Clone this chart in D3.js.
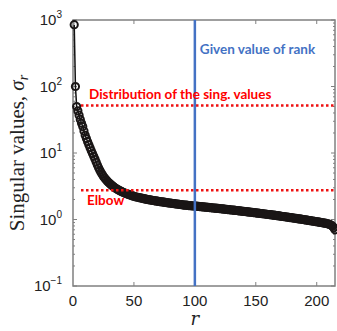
<!DOCTYPE html>
<html>
<head>
<meta charset="utf-8">
<script src="https://cdn.jsdelivr.net/npm/d3@7"></script>
<style>
  body { margin: 0; background: #fff; }
  svg { display: block; }
</style>
</head>
<body>
<div id="chart"></div>
<script>
// Singular value decay with rank / elbow markers

const width = 337,
    height = 331,
    margin = ({ top: 20, right: 2, bottom: 45, left: 73 });

// sigma_r for r = 1..215
const sigma = [
  850, 100, 50, 43, 37, 32, 28, 25, 21.5, 18.5,
  16.5, 14.8, 13.3, 12.0, 10.8, 9.8, 8.9, 8.1, 7.3, 6.6,
  6.0, 5.5, 5.1, 4.75, 4.45, 4.2, 3.98, 3.8, 3.64, 3.5,
  3.37, 3.25, 3.14, 3.04, 2.95, 2.87, 2.80, 2.74, 2.68, 2.62,
  2.57, 2.52, 2.48, 2.44, 2.40, 2.36, 2.33, 2.29, 2.26, 2.23,
  2.20, 2.18, 2.16, 2.14, 2.12, 2.10, 2.08, 2.06, 2.04, 2.02,
  2.00, 1.99, 1.97, 1.96, 1.94, 1.93, 1.91, 1.90, 1.89, 1.87,
  1.86, 1.85, 1.84, 1.83, 1.82, 1.80, 1.79, 1.78, 1.77, 1.76,
  1.75, 1.74, 1.73, 1.72, 1.71, 1.70, 1.69, 1.68, 1.67, 1.66,
  1.65, 1.645, 1.64, 1.63, 1.62, 1.615, 1.61, 1.60, 1.595, 1.59,
  1.585, 1.58, 1.57, 1.565, 1.56, 1.55, 1.545, 1.54, 1.53, 1.525,
  1.52, 1.51, 1.505, 1.50, 1.49, 1.485, 1.48, 1.47, 1.465, 1.46,
  1.45, 1.445, 1.44, 1.43, 1.425, 1.42, 1.41, 1.405, 1.40, 1.39,
  1.385, 1.38, 1.37, 1.365, 1.36, 1.35, 1.345, 1.34, 1.33, 1.325,
  1.32, 1.31, 1.305, 1.30, 1.29, 1.285, 1.28, 1.27, 1.265, 1.26,
  1.25, 1.245, 1.24, 1.23, 1.225, 1.22, 1.21, 1.205, 1.20, 1.19,
  1.185, 1.18, 1.17, 1.165, 1.16, 1.15, 1.145, 1.14, 1.13, 1.125,
  1.12, 1.11, 1.105, 1.10, 1.09, 1.085, 1.08, 1.07, 1.065, 1.06,
  1.05, 1.045, 1.04, 1.03, 1.025, 1.02, 1.01, 1.005, 1.00, 0.99,
  0.985, 0.98, 0.97, 0.965, 0.96, 0.95, 0.945, 0.94, 0.93, 0.925,
  0.92, 0.91, 0.905, 0.90, 0.89, 0.885, 0.88, 0.87, 0.86, 0.85,
  0.84, 0.82, 0.79, 0.75, 0.70
];
const ranks = sigma.map((d, i) => i + 1);

const xTicks = [0, 50, 100, 150, 200];
const yTicks = [0.1, 1, 10, 100, 1000];
const yTickExp = ["\u22121", "0", "1", "2", "3"];

const givenRank = 100;
const distLevel = 52;
const elbowLevel = 2.75;

const svg = d3.select("#chart")
    .append("svg")
    .attr("width", width)
    .attr("height", height);

const x = d3.scaleLinear()
    .domain([0, 215])
    .range([margin.left, width - margin.right]);

const y = d3.scaleLog()
    .domain([0.1, 1000])
    .range([height - margin.bottom, margin.top]);

const axisColor = "#808080";

// minor ticks for log axis
const minor = [];
for (let e = -1; e < 3; e++) {
  for (let m = 2; m <= 9; m++) minor.push(m * Math.pow(10, e));
}

// frame
svg.append("rect")
  .attr("x", x(0))
  .attr("y", y(1000))
  .attr("width", x(215) - x(0))
  .attr("height", y(0.1) - y(1000))
  .attr("fill", "none")
  .attr("stroke", axisColor)
  .attr("stroke-width", 1.5);

const ticks = svg.append("g").attr("stroke", axisColor).attr("stroke-width", 1);

// left + right major/minor ticks
ticks.selectAll(".ymaj")
  .data(yTicks)
  .join("path")
  .attr("d", d => `M${x(0)},${y(d)}h4M${x(215)},${y(d)}h-4`);
ticks.selectAll(".ymin")
  .data(minor)
  .join("path")
  .attr("d", d => `M${x(0)},${y(d)}h2M${x(215)},${y(d)}h-2`);

// bottom + top ticks
ticks.selectAll(".xt")
  .data(xTicks.slice(1))
  .join("path")
  .attr("d", d => `M${x(d)},${y(0.1)}v-4M${x(d)},${y(1000)}v4`);

// y tick labels with superscripts
const yl = svg.append("g")
  .attr("font-family", "Liberation Sans, Arial, sans-serif")
  .attr("fill", "#222");

yTicks.forEach((d, i) => {
  const t = yl.append("text")
    .attr("x", x(0) - 11)
    .attr("y", y(d) + 5)
    .attr("text-anchor", "end")
    .attr("font-size", 15);
  t.append("tspan").text("10");
  t.append("tspan")
    .attr("dy", -7)
    .attr("font-size", 10)
    .text(yTickExp[i]);
});

// x tick labels
svg.append("g")
  .selectAll("text")
  .data(xTicks)
  .join("text")
  .attr("x", d => x(d))
  .attr("y", y(0.1) + 20)
  .attr("text-anchor", "middle")
  .attr("font-family", "Liberation Sans, Arial, sans-serif")
  .attr("font-size", 15)
  .attr("fill", "#222")
  .text(d => d);

// axis titles
svg.append("text")
  .attr("x", x(100))
  .attr("y", height - 6)
  .attr("text-anchor", "middle")
  .attr("font-family", "DejaVu Serif, Liberation Serif, serif")
  .attr("font-style", "italic")
  .attr("font-size", 18)
  .attr("fill", "#222")
  .text("r");

const yt = svg.append("text")
  .attr("transform", `translate(24,${(y(0.1) + y(1000)) / 2}) rotate(-90)`)
  .attr("text-anchor", "middle")
  .attr("font-family", "Liberation Serif, DejaVu Serif, serif")
  .attr("font-size", 21)
  .attr("fill", "#222");
yt.append("tspan").text("Singular values, ");
yt.append("tspan").attr("font-style", "italic").text("\u03c3");
yt.append("tspan").attr("font-style", "italic").attr("font-size", 14).attr("dy", 4).text("r");

// data
const pts = ranks.map((r, i) => [r, sigma[i]]);

svg.append("path")
  .datum(pts)
  .attr("fill", "none")
  .attr("stroke", "#111")
  .attr("stroke-width", 1.5)
  .attr("d", d3.line().x(d => x(d[0])).y(d => y(d[1])));

svg.append("g")
  .selectAll("circle")
  .data(pts)
  .join("circle")
  .attr("cx", d => x(d[0]))
  .attr("cy", d => y(d[1]))
  .attr("r", 3.6)
  .attr("fill", "none")
  .attr("stroke", "#1a1616")
  .attr("stroke-width", 2);

// reference lines
[distLevel, elbowLevel].forEach(v => {
  svg.append("line")
    .attr("x1", x(0) + 8)
    .attr("x2", x(215))
    .attr("y1", y(v))
    .attr("y2", y(v))
    .attr("stroke", "#ee1111")
    .attr("stroke-width", 2.5)
    .attr("stroke-dasharray", "2.5,2.5");
});

svg.append("line")
  .attr("x1", x(givenRank))
  .attr("x2", x(givenRank))
  .attr("y1", y(1000))
  .attr("y2", y(0.1))
  .attr("stroke", "#4472c4")
  .attr("stroke-width", 2.5);

// annotations
const ann = svg.append("g")
  .attr("font-family", "Lato, Open Sans, sans-serif")
  .attr("font-weight", "bold")
  .attr("font-size", 13.5);

ann.append("text")
  .attr("x", x(givenRank) + 5)
  .attr("y", 54)
  .attr("fill", "#4472c4")
  .text("Given value of rank");

ann.append("text")
  .attr("x", 89)
  .attr("y", y(distLevel) - 6)
  .attr("fill", "#ff0000")
  .text("Distribution of the sing. values");

ann.append("text")
  .attr("x", 87)
  .attr("y", 205)
  .attr("fill", "#ff0000")
  .text("Elbow");
</script>
</body>
</html>
